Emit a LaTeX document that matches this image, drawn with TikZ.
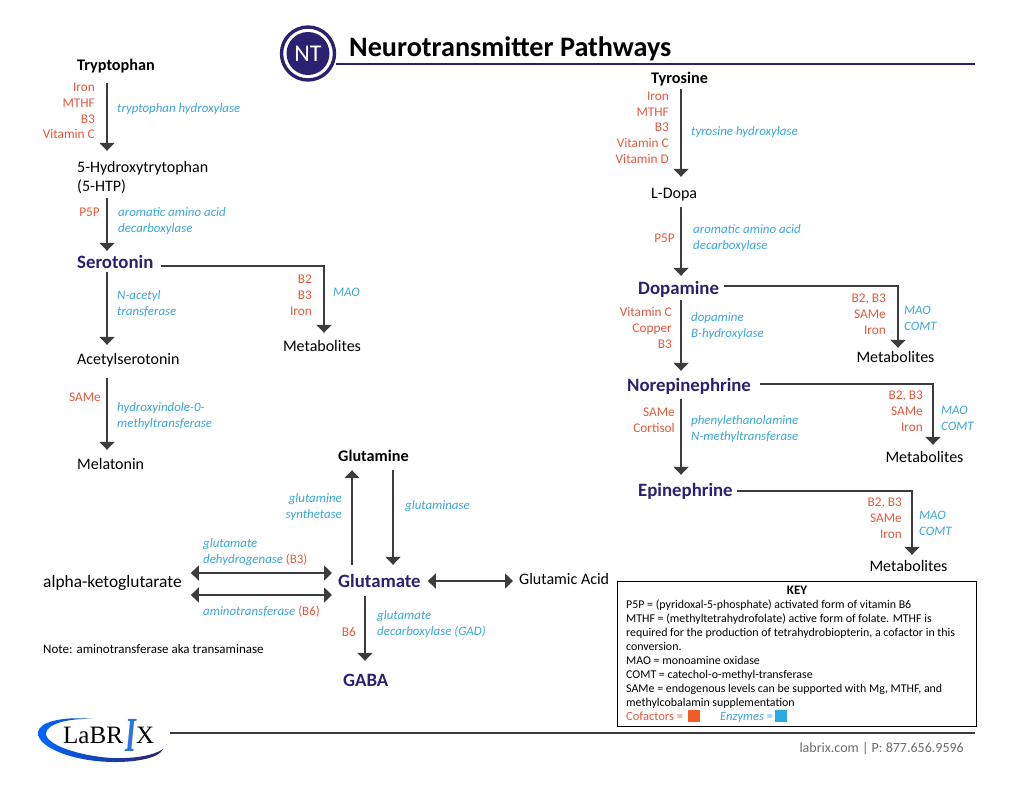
\documentclass[tikz,border=0pt]{standalone}
\usepackage{fontspec}
\setmainfont{Carlito}
\newfontfamily\logofont{Liberation Serif}
\usetikzlibrary{arrows.meta}

\definecolor{cofactor}{HTML}{E4583C}
\definecolor{enzyme}{HTML}{3AA6D6}
\definecolor{navy}{HTML}{2A2270}
\definecolor{arrowgray}{HTML}{3C3C3E}
\definecolor{swatchred}{HTML}{F15A29}
\definecolor{swatchblue}{HTML}{29A9E0}

\tikzset{
  flow/.style={line width=1.5pt, arrowgray, -{Triangle[width=15pt,length=8pt]}},
  both/.style={line width=1.5pt, arrowgray, {Triangle[width=15pt,length=8pt]}-{Triangle[width=15pt,length=8pt]}},
  label/.style={inner sep=0pt, anchor=base west, text height=11pt, text depth=4pt, font=\fontsize{16}{19}\selectfont},
  precursor/.style={label, font=\fontsize{16.2}{19}\selectfont\bfseries},
  transmitter/.style={label, navy, font=\fontsize{18.8}{21}\selectfont\bfseries},
  metabolite/.style={label, anchor=base},
  cof/.style={inner sep=0pt, anchor=base east, align=right, cofactor, font=\fontsize{13.3}{15.6}\selectfont},
  enz/.style={inner sep=0pt, anchor=base west, align=left, enzyme, font=\fontsize{12.9}{15.9}\selectfont\itshape},
}

\begin{document}
\begin{tikzpicture}[x=1pt, y=-1pt]
\useasboundingbox (0,0) rectangle (1024,793);

\coordinate (colSer) at (107,0);
\coordinate (colDop) at (681,0);
\coordinate (colGlnUp) at (352,0);
\coordinate (colGlnDown) at (393,0);
\coordinate (colGaba) at (365,0);

% --- Title ---
\node (ntring) [circle, draw=navy, line width=3.4pt, fill=white, minimum size=53pt, inner sep=0pt] at (308,53.5) {};
\node (ntdisc) [circle, fill=navy, minimum size=43pt, inner sep=0pt, text=white, font=\fontsize{24}{24}\selectfont] at (308,53.5) {NT};
\node (title) [inner sep=0pt, anchor=base west, font=\fontsize{28.2}{30}\selectfont\bfseries] at (349,56) {Neurotransmitter Pathways};
\coordinate (titleend) at (975,64);
\draw[navy, line width=1.3pt] (ntring.east |- titleend) -- (titleend);

% --- Serotonin pathway ---
\node (trp) [precursor] at (77,70) {Tryptophan};
\node (htp) [label, align=left] at (77,191) {5-Hydroxytrytophan\\(5-HTP)};
\node (ser) [transmitter] at (77,268) {Serotonin};
\node (acs) [label] at (77,364) {Acetylserotonin};
\node (mel) [label] at (77,469) {Melatonin};
\node (met1) [metabolite] at (322,351) {Metabolites};

\draw[flow, shorten <=9pt, shorten >=29pt] (trp.south -| colSer) -- (htp.north -| colSer);
\draw[flow, shorten <=3pt, shorten >=6pt] (htp.south -| colSer) -- (ser.north -| colSer);
\draw[flow, shorten >=8pt] (ser.south -| colSer) -- (acs.north -| colSer);
\draw[flow, shorten <=10pt, shorten >=8pt] (acs.south -| colSer) -- (mel.north -| colSer);
\draw[flow, shorten >=7pt] ([xshift=7pt,yshift=-1.5pt]ser.east) -| ([xshift=2pt]met1.north);

\node (cofTrp) [cof] at (95,138.7) {Iron\\MTHF\\B3\\Vitamin C};
\node (enzTrp) [enz] at (117,112.7) {tryptophan hydroxylase};
\node (cofHtp) [cof] at (100,216) {P5P};
\node (enzHtp) [enz] at (118,232) {aromatic amino acid\\decarboxylase};
\node (enzAcs) [enz] at (117,315) {N-acetyl\\transferase};
\node (cofMet1) [cof] at (312,315) {B2\\B3\\Iron};
\node (enzMet1) [enz] at (333,296) {MAO};
\node (cofMel) [cof] at (101,401) {SAMe};
\node (enzMel) [enz] at (117,427) {hydroxyindole-0-\\methyltransferase};

% --- Dopamine pathway ---
\node (tyr) [precursor] at (651,83) {Tyrosine};
\node (dopa) [label] at (651,198) {L-Dopa};
\node (dop) [transmitter] at (638,294) {Dopamine};
\node (nor) [transmitter] at (627,391) {Norepinephrine};
\node (epi) [transmitter] at (638,496) {Epinephrine};
\node (met2) [metabolite] at (895.5,362) {Metabolites};
\node (met3) [metabolite] at (924.5,462) {Metabolites};
\node (met4) [metabolite] at (908.5,571) {Metabolites};

\draw[flow, shorten <=2pt, shorten >=10pt] (tyr.south -| colDop) -- (dopa.north -| colDop);
\draw[flow, shorten <=5pt, shorten >=7pt] (dopa.south -| colDop) -- (dop.north -| colDop);
\draw[flow, shorten <=2pt, shorten >=9pt] (dop.south -| colDop) -- (nor.north -| colDop);
\draw[flow, shorten <=4pt, shorten >=10pt] (nor.south -| colDop) -- (epi.north -| colDop);
\draw[flow, shorten >=3pt] ([xshift=5pt,yshift=4.5pt]dop.east) -| ([xshift=2.5pt]met2.north);
\draw[flow, shorten >=6pt] ([xshift=9pt,yshift=3.5pt]nor.east) -| ([xshift=8.5pt]met3.north);
\draw[flow, shorten >=5pt] ([xshift=4pt,yshift=1.5pt]epi.east) -| ([xshift=3.5pt]met4.north);

\node (cofTyr) [cof] at (669,163) {Iron\\MTHF\\B3\\Vitamin C\\Vitamin D};
\node (enzTyr) [enz] at (691,135) {tyrosine hydroxylase};
\node (cofDopa) [cof] at (675,242) {P5P};
\node (enzDopa) [enz] at (693,249) {aromatic amino acid\\decarboxylase};
\node (cofDop) [cof] at (672,348) {Vitamin C\\Copper\\B3};
\node (enzDop) [enz] at (691,337) {dopamine\\B-hydroxylase};
\node (cofNor) [cof] at (675,432) {SAMe\\Cortisol};
\node (enzNor) [enz] at (691,440) {phenylethanolamine\\N-methyltransferase};
\node (cofMet2) [cof] at (886,334) {B2, B3\\SAMe\\Iron};
\node (enzMet2) [enz] at (904,330) {MAO\\COMT};
\node (cofMet3) [cof] at (923,431) {B2, B3\\SAMe\\Iron};
\node (enzMet3) [enz] at (941,430) {MAO\\COMT};
\node (cofMet4) [cof] at (902,538) {B2, B3\\SAMe\\Iron};
\node (enzMet4) [enz] at (919,535) {MAO\\COMT};

% --- Glutamate pathway ---
\node (gln) [precursor] at (338,461) {Glutamine};
\node (glu) [transmitter] at (338,587) {Glutamate};
\node (gaba) [transmitter] at (343,686) {GABA};
\node (akg) [label, font=\fontsize{17.4}{19}\selectfont] at (43,587) {alpha-ketoglutarate};
\node (gac) [label] at (519,584) {Glutamic Acid};

\draw[flow, shorten <=11pt, shorten >=5pt] (glu.north -| colGlnUp) -- (gln.south -| colGlnUp);
\draw[flow, shorten <=5pt, shorten >=11pt] (gln.south -| colGlnDown) -- (glu.north -| colGlnDown);
\draw[flow, shorten <=5pt, shorten >=14pt] (glu.south -| colGaba) -- (gaba.north -| colGaba);
\draw[both, shorten <=9pt, shorten >=6pt] ([yshift=10.5pt]akg.east) -- ([yshift=10.5pt]glu.west);
\draw[both, shorten <=9pt, shorten >=6pt] ([yshift=-11.5pt]akg.east) -- ([yshift=-11.5pt]glu.west);
\draw[both, shorten <=7pt, shorten >=6pt] ([yshift=2.5pt]glu.east) -- ([yshift=-0.5pt]gac.west);

\node (enzSyn) [enz, anchor=base east, align=right] at (342,518) {glutamine\\synthetase};
\node (enzGls) [enz] at (405,509) {glutaminase};
\node (enzGdh) [enz] at (203,563) {glutamate\\dehydrogenase \textcolor{cofactor}{\normalfont(B3)}};
\node (enzAmt) [enz] at (203,615) {aminotransferase \textcolor{cofactor}{\normalfont(B6)}};
\node (cofGad) [cof] at (356,636) {B6};
\node (enzGad) [enz] at (377,635) {glutamate\\decarboxylase (GAD)};
\node (note) [inner sep=0pt, anchor=base west, font=\fontsize{13}{15}\selectfont] at (43,653) {Note: aminotransferase aka transaminase};

% --- Key ---
\node (keybox) [draw, line width=1.2pt, minimum width=359pt, minimum height=145pt, inner sep=0pt, anchor=north west] at (617,581) {};
\node (keytitle) [inner sep=0pt, anchor=base, font=\fontsize{13}{14}\selectfont\bfseries] at (797,594) {KEY};
\node (keytext) [inner sep=0pt, anchor=base west, align=left, font=\fontsize{11.9}{14}\selectfont] at (626,706) {P5P = (pyridoxal-5-phosphate) activated form of vitamin B6\\
MTHF = (methyltetrahydrofolate) active form of folate. MTHF is\\
required for the production of tetrahydrobiopterin, a cofactor in this\\
conversion.\\
MAO = monoamine oxidase\\
COMT = catechol-o-methyl-transferase\\
SAMe = endogenous levels can be supported with Mg, MTHF, and\\
methylcobalamin supplementation};
\node (keycof) [inner sep=0pt, anchor=base west, cofactor, font=\fontsize{12.5}{14}\selectfont] at (626,720) {Cofactors =};
\node (keycofbox) [fill=swatchred, minimum size=12pt, inner sep=0pt] at (694,716) {};
\node (keyenz) [inner sep=0pt, anchor=base west, enzyme, font=\fontsize{12.5}{14}\selectfont\itshape] at (720,720) {Enzymes =};
\node (keyenzbox) [fill=swatchblue, minimum size=12pt, inner sep=0pt] at (781,716) {};

% --- Footer ---
\shade[left color=blue!60!cyan, right color=navy] (93,719) .. controls (62,716) and (38,722) .. (38,733) .. controls (38,748) and (75,762) .. (115,762) .. controls (140,762) and (160,757) .. (163,749) .. controls (155,755) and (135,759) .. (112,758) .. controls (80,756) and (45,745) .. (46,733) .. controls (47,724) and (68,718) .. (93,719) -- cycle;
\node (logoa) [inner sep=0pt, anchor=base west, font=\logofont\fontsize{25}{25}\selectfont] at (63,743) {LaBR};
\node (logoi) [inner sep=0pt, anchor=base, enzyme!70!blue, yscale=1.75, font=\logofont\fontsize{28}{28}\selectfont\bfseries\itshape] at (131,751) {I};
\node (logox) [inner sep=0pt, anchor=base west, font=\logofont\fontsize{25}{25}\selectfont] at (136,743) {X};
\coordinate (footstart) at (170,733);
\coordinate (footend) at (975,733);
\draw[arrowgray, line width=1.3pt] (footstart) -- (footend);
\node (contact) [inner sep=0pt, anchor=base east, gray!85!black, font=\fontsize{14}{17}\selectfont] at (964,752) {labrix.com | P: 877.656.9596};

\end{tikzpicture}
\end{document}
